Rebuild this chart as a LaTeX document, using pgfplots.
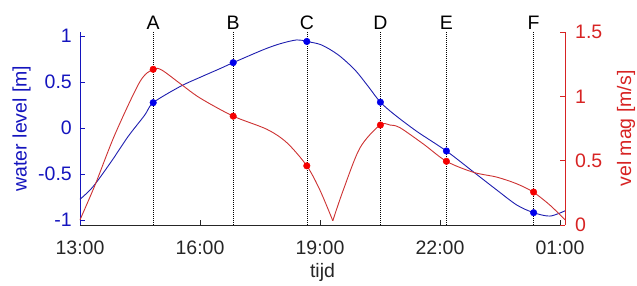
\documentclass[border=0pt]{standalone}
\usepackage{fontspec}
\setmainfont{Liberation Sans}
\usepackage{pgfplots}
\pgfplotsset{compat=1.18}
\definecolor{wlblue}{RGB}{20,20,190}
\definecolor{wlline}{RGB}{30,30,175}
\definecolor{wlmark}{RGB}{0,0,235}
\definecolor{vmred}{RGB}{215,35,35}
\definecolor{vmline}{RGB}{205,50,50}
\definecolor{vmmark}{RGB}{245,0,0}
\definecolor{axgray}{RGB}{38,38,38}
\pgfplotsset{
  common/.style={
    scale only axis, width=485pt, height=193pt,
    at={(80pt,61pt)}, anchor=south west,
    xmin=0, xmax=12.125,
    font=\fontsize{19.5}{23}\selectfont,
    tick align=inside,
    major tick length=5pt,
    clip=false,
  }
}
\begin{document}
\begin{tikzpicture}
\useasboundingbox (0,0) rectangle (637pt,286pt);
\begin{axis}[common,
  axis x line*=bottom, axis y line*=left,
  ymin=-1.054, ymax=1.043,
  xtick={0,3,6,9,12}, xticklabels={13:00,16:00,19:00,22:00,01:00},
  ytick={-1,-0.5,0,0.5,1}, yticklabels={-1,-0.5,0,0.5,1},
  x axis line style={axgray, line width=0.7pt, -},
  y axis line style={wlblue, line width=0.7pt, -},
  xtick style={axgray, line width=0.7pt},
  ytick style={wlblue, line width=0.7pt},
  xticklabel style={anchor=base, inner sep=0pt, yshift=-30pt, text=axgray},
  yticklabel style={anchor=east, inner sep=0pt, xshift=-8pt, text=wlblue},
  xlabel={tijd}, xlabel style={at={(axis description cs:0.5,-0.2435)}, anchor=center, text=axgray},
  ylabel={water level [m]}, ylabel style={at={(axis description cs:-0.1206,0.5)}, anchor=center, text=wlblue},
]
% vertical reference lines
\addplot[black, line width=0.6pt, dash pattern=on 1pt off 1pt] coordinates {(1.83,-1.054) (1.83,1.043)};
\addplot[black, line width=0.6pt, dash pattern=on 1pt off 1pt] coordinates {(3.83,-1.054) (3.83,1.043)};
\addplot[black, line width=0.6pt, dash pattern=on 1pt off 1pt] coordinates {(5.67,-1.054) (5.67,1.043)};
\addplot[black, line width=0.6pt, dash pattern=on 1pt off 1pt] coordinates {(7.51,-1.054) (7.51,1.043)};
\addplot[black, line width=0.6pt, dash pattern=on 1pt off 1pt] coordinates {(9.16,-1.054) (9.16,1.043)};
\addplot[black, line width=0.6pt, dash pattern=on 1pt off 1pt] coordinates {(11.34,-1.054) (11.34,1.043)};
\node[anchor=base, yshift=2pt, text=black] at (axis cs:1.83,1.043) {A};
\node[anchor=base, yshift=2pt, text=black] at (axis cs:3.83,1.043) {B};
\node[anchor=base, yshift=2pt, text=black] at (axis cs:5.67,1.043) {C};
\node[anchor=base, yshift=2pt, text=black] at (axis cs:7.51,1.043) {D};
\node[anchor=base, yshift=2pt, text=black] at (axis cs:9.16,1.043) {E};
\node[anchor=base, yshift=2pt, text=black] at (axis cs:11.34,1.043) {F};
% water level
\addplot[wlline, line width=0.9pt, smooth, no marks] coordinates {
(0,-0.775) (0.325,-0.638) (0.78,-0.366) (1.2,-0.094) (1.62,0.141) (1.83,0.275)
(2.5,0.45) (3.0,0.55) (3.5,0.645) (3.83,0.71) (4.58,0.85) (5.0,0.915)
(5.42,0.957) (5.67,0.94) (6.04,0.902) (6.46,0.793) (6.875,0.63) (7.21,0.449)
(7.51,0.28) (7.875,0.141) (8.43,-0.04) (9.16,-0.25) (9.83,-0.475) (10.42,-0.674)
(10.92,-0.837) (11.34,-0.92) (11.75,-0.957) (12.125,-0.90)};
\addplot[only marks, mark=*, mark size=3.3pt, wlmark, mark options={draw=wlmark, fill=wlmark}] coordinates {
(1.83,0.275) (3.83,0.71) (5.67,0.94) (7.51,0.28) (9.16,-0.25) (11.34,-0.92)};
\end{axis}
\begin{axis}[common,
  axis x line=none, axis y line*=right,
  ymin=0, ymax=1.5,
  ytick={0,0.5,1,1.5}, yticklabels={0,0.5,1,1.5},
  y axis line style={vmred, line width=0.7pt, -},
  ytick style={vmred, line width=0.7pt},
  yticklabel style={anchor=west, inner sep=0pt, xshift=10pt, text=vmred},
  ylabel={vel mag [m/s]}, ylabel style={at={(axis description cs:1.1258,0.5)}, anchor=center, rotate=0, text=vmred},
]
\addplot[vmline, line width=0.9pt, smooth, no marks] coordinates {
(0,0.04) (0.375,0.31) (0.875,0.705) (1.5,1.115) (1.83,1.21) (2.04,1.205)
(2.5,1.10) (3.0,0.987) (3.83,0.846) (4.67,0.744) (5.17,0.64) (5.67,0.46)
(6.0,0.27) (6.32,0.033)};
\addplot[vmline, line width=0.9pt, smooth, no marks] coordinates {
(6.32,0.033) (6.58,0.27) (7.0,0.60) (7.5,0.777) (7.75,0.777) (8.0,0.756)
(8.59,0.628) (9.16,0.495) (9.83,0.41) (10.42,0.372) (10.92,0.32)
(11.33,0.256) (11.75,0.154) (12.125,0.04)};
\addplot[only marks, mark=*, mark size=3.3pt, vmmark, mark options={draw=vmmark, fill=vmmark}] coordinates {
(1.83,1.21) (3.83,0.846) (5.67,0.46) (7.51,0.777) (9.16,0.495) (11.34,0.256)};
\end{axis}
\end{tikzpicture}
\end{document}
